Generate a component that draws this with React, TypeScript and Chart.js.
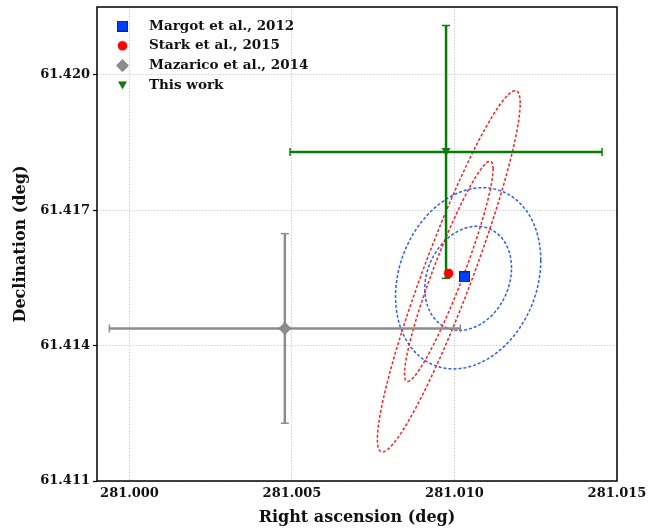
import React, { useEffect, useRef } from "react";
import { Chart, registerables } from "chart.js";

Chart.register(...registerables);

// ---- data ----
const xTickValues = [281.0, 281.005, 281.01, 281.015];
const yTickValues = [61.411, 61.414, 61.417, 61.42];
const xRange = [280.999, 281.015];
const yRange = [61.411, 61.4215];

const seriesNames = ["Margot et al., 2012", "Stark et al., 2015", "Mazarico et al., 2014", "This work"];
const raValues = [281.01031, 281.00982, 281.00478, 281.00974];
const decValues = [61.41552, 61.4156, 61.41438, 61.41829];
const raErrors = [0, 0, 0.0054, 0.0048];
const decErrors = [0, 0, 0.0021, 0.0028];

// confidence contours: [inner, outer]
const margotContourCenter = [281.01042, 61.41549];
const margotContourRA = [0.001334, 0.002234];
const margotContourDec = [0.001153, 0.002007];
const margotContourCorr = 0.2;

const starkContourCenter = [281.009824, 61.415645];
const starkContourRA = [0.001362, 0.002197];
const starkContourDec = [0.002439, 0.004002];
const starkContourCorr = 0.93;

const FONT = '"DejaVu Serif", serif';

function contour(center: number[], sRA: number, sDec: number, rho: number) {
  const pts: { x: number; y: number }[] = [];
  const n = 160;
  const q = Math.sqrt(1 - rho * rho);
  for (let i = 0; i <= n; i++) {
    const t = (i / n) * Math.PI * 2;
    pts.push({
      x: center[0] + sRA * Math.cos(t),
      y: center[1] + sDec * (rho * Math.cos(t) + q * Math.sin(t)),
    });
  }
  return pts;
}

function makeMarker(kind: string): HTMLCanvasElement {
  const c = document.createElement("canvas");
  const ctx = c.getContext("2d")!;
  if (kind === "square") {
    c.width = 11; c.height = 11;
    ctx.fillStyle = "rgb(0,64,255)";
    ctx.strokeStyle = "rgb(0,35,170)";
    ctx.lineWidth = 1;
    ctx.fillRect(0.5, 0.5, 10, 10);
    ctx.strokeRect(0.5, 0.5, 10, 10);
  } else if (kind === "circle") {
    c.width = 11; c.height = 11;
    ctx.fillStyle = "#ff0000";
    ctx.beginPath();
    ctx.arc(5.5, 5.5, 4.8, 0, Math.PI * 2);
    ctx.fill();
  } else if (kind === "diamond") {
    c.width = 13; c.height = 13;
    ctx.fillStyle = "#8c8c8c";
    ctx.strokeStyle = "#777777";
    ctx.lineWidth = 0.8;
    ctx.beginPath();
    ctx.moveTo(6.5, 0.5);
    ctx.lineTo(12.5, 6.5);
    ctx.lineTo(6.5, 12.5);
    ctx.lineTo(0.5, 6.5);
    ctx.closePath();
    ctx.fill();
    ctx.stroke();
  } else {
    c.width = 11; c.height = 10;
    ctx.fillStyle = "rgb(25,115,25)";
    ctx.beginPath();
    ctx.moveTo(1, 1);
    ctx.lineTo(10, 1);
    ctx.lineTo(5.5, 9);
    ctx.closePath();
    ctx.fill();
  }
  return c;
}

export default function App() {
  const ref = useRef<HTMLCanvasElement | null>(null);

  useEffect(() => {
    document.body.style.margin = "0";
    const canvas = ref.current!;
    const markers = [makeMarker("square"), makeMarker("circle"), makeMarker("diamond"), makeMarker("triangle")];
    const gray = "#8c8c8c";
    const green = "#008000";

    const markerSets = seriesNames.map((name, i) => ({
      label: name,
      data: [{ x: raValues[i], y: decValues[i] }],
      pointStyle: markers[i] as any,
      pointRadius: 5,
      showLine: false,
      order: 0,
    }));

    const errColors = [null, null, gray, green];
    const errSets: any[] = [];
    [2, 3].forEach((i) => {
      const col = errColors[i] as string;
      errSets.push({
        label: "_v" + i,
        data: [
          { x: raValues[i], y: decValues[i] - decErrors[i] },
          { x: raValues[i], y: decValues[i] + decErrors[i] },
        ],
        showLine: true,
        borderColor: col,
        borderWidth: 2.5,
        pointStyle: "line",
        pointRadius: 4,
        pointRotation: 0,
        pointBorderColor: col,
        pointBorderWidth: 1.5,
        pointBackgroundColor: col,
        order: 1,
      });
      errSets.push({
        label: "_h" + i,
        data: [
          { x: raValues[i] - raErrors[i], y: decValues[i] },
          { x: raValues[i] + raErrors[i], y: decValues[i] },
        ],
        showLine: true,
        borderColor: col,
        borderWidth: 2.5,
        pointStyle: "line",
        pointRadius: 4,
        pointRotation: 90,
        pointBorderColor: col,
        pointBorderWidth: 1.5,
        pointBackgroundColor: col,
        order: 1,
      });
    });

    const contourSets: any[] = [];
    [0, 1].forEach((k) => {
      contourSets.push({
        label: "_red" + k,
        data: contour(starkContourCenter, starkContourRA[k], starkContourDec[k], starkContourCorr),
        showLine: true,
        borderColor: "#ff1f1f",
        borderWidth: 1.5,
        borderDash: [3, 2],
        pointRadius: 0,
        fill: false,
        order: 2,
      });
    });
    [0, 1].forEach((k) => {
      contourSets.push({
        label: "_blue" + k,
        data: contour(margotContourCenter, margotContourRA[k], margotContourDec[k], margotContourCorr),
        showLine: true,
        borderColor: "#2a5cff",
        borderWidth: 1.5,
        borderDash: [3, 2],
        pointRadius: 0,
        fill: false,
        order: 3,
      });
    });

    const framePlugin = {
      id: "frameAndLegend",
      afterDraw(chart: any) {
        const { ctx, chartArea } = chart;
        ctx.save();
        ctx.strokeStyle = "#000";
        ctx.lineWidth = 1.5;
        ctx.strokeRect(chartArea.left, chartArea.top, chartArea.right - chartArea.left, chartArea.bottom - chartArea.top);
        // legend
        ctx.font = "bold 13.5px " + FONT;
        ctx.fillStyle = "#111";
        ctx.textBaseline = "middle";
        ctx.textAlign = "left";
        seriesNames.forEach((name, i) => {
          const y = chartArea.top + 19 + i * 19.8;
          const m = markers[i];
          ctx.drawImage(m, chartArea.left + 25.5 - m.width / 2, y - m.height / 2);
          ctx.fillText(name, chartArea.left + 52, y);
        });
        ctx.restore();
      },
    };

    const chart = new Chart(canvas, {
      type: "scatter",
      data: { datasets: [...markerSets, ...errSets, ...contourSets] as any },
      options: {
        animation: false,
        responsive: false,
        events: [],
        layout: { padding: { top: 7, right: 33, left: 0, bottom: 0 } },
        plugins: { legend: { display: false }, tooltip: { enabled: false } },
        scales: {
          x: {
            type: "linear",
            min: xRange[0],
            max: xRange[1],
            afterBuildTicks: (s: any) => {
              s.ticks = xTickValues.map((v) => ({ value: v }));
            },
            afterFit: (s: any) => {
              s.height = 48;
              s.paddingLeft = 0;
              s.paddingRight = 0;
            },
            ticks: {
              color: "#111",
              font: { family: FONT, size: 13, weight: "bold" },
              padding: 5,
              maxRotation: 0,
              callback: (v: any) => Number(v).toFixed(3),
            },
            grid: { color: "#c4c4c4", lineWidth: 0.8, drawTicks: false },
            border: { display: false, dash: [1.5, 1.5] },
            title: {
              display: true,
              text: "Right ascension (deg)",
              color: "#111",
              font: { family: FONT, size: 16, weight: "bold" },
              padding: { top: 0, bottom: 2 },
            },
          },
          y: {
            type: "linear",
            min: yRange[0],
            max: yRange[1],
            afterBuildTicks: (s: any) => {
              s.ticks = yTickValues.map((v) => ({ value: v }));
            },
            afterFit: (s: any) => {
              s.width = 97;
              s.paddingTop = 0;
              s.paddingBottom = 0;
            },
            ticks: {
              color: "#111",
              font: { family: FONT, size: 13, weight: "bold" },
              padding: 3,
              callback: (v: any) => Number(v).toFixed(3),
            },
            grid: { color: "#c4c4c4", lineWidth: 0.8, drawTicks: true, tickLength: 4, tickColor: "#000", tickWidth: 1.2 } as any,
            border: { display: false, dash: [1.5, 1.5] },
            title: {
              display: true,
              text: "Declination (deg)",
              color: "#111",
              font: { family: FONT, size: 16, weight: "bold" },
              padding: { top: 11, bottom: 0 },
            },
          },
        },
      },
      plugins: [framePlugin],
    } as any);
    return () => chart.destroy();
  }, []);

  return (
    <div style={{ width: 650, height: 529, position: "relative" }}>
      <canvas ref={ref} width={650} height={529} style={{ width: 650, height: 529, display: "block" }} />
    </div>
  );
}
